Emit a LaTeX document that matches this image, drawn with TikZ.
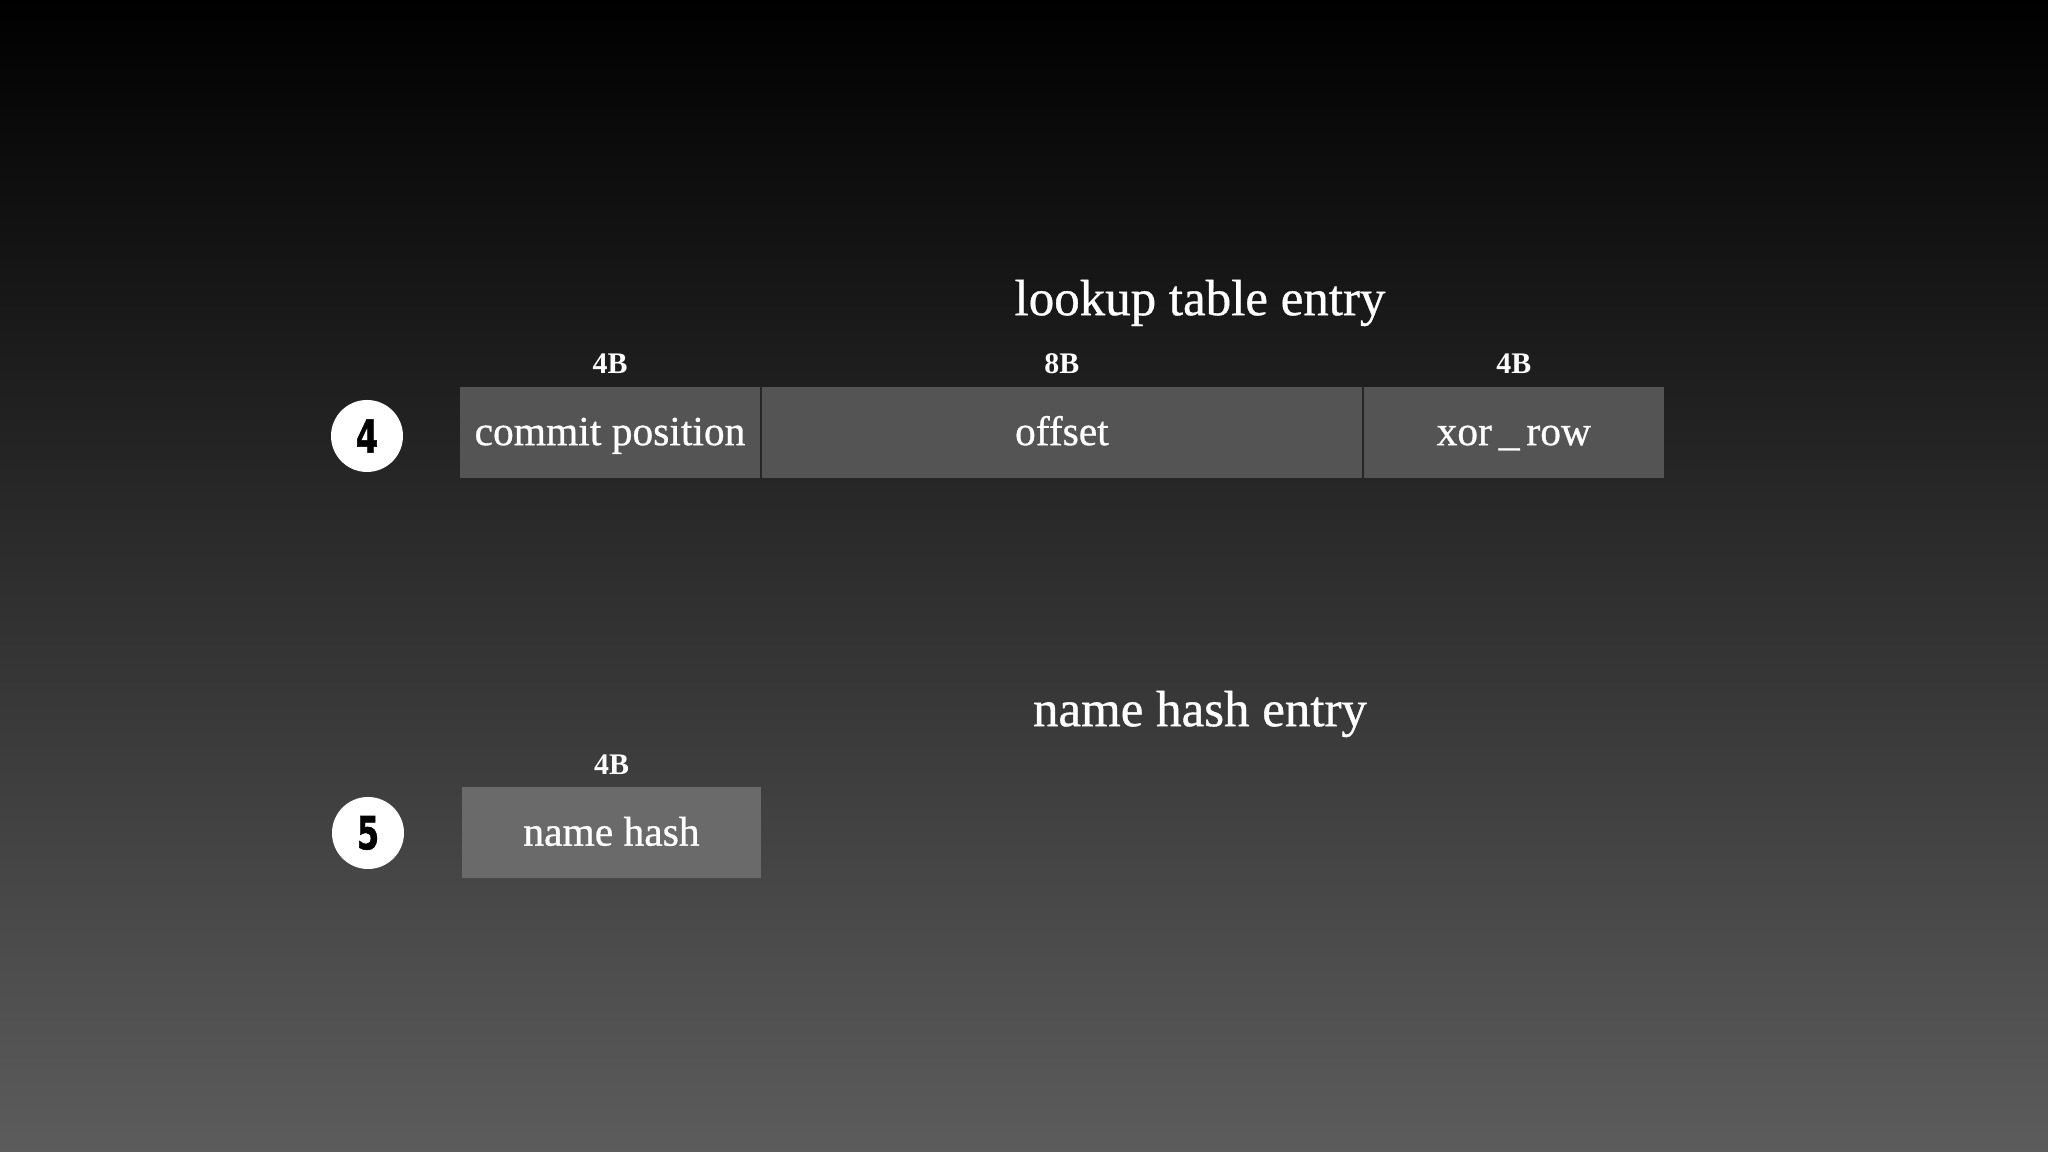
\documentclass[tikz,border=0pt]{standalone}
\usepackage{fontspec}
\setmainfont{Liberation Serif}
\newfontfamily\labelfont{Liberation Serif}[FakeBold=0.7]
\newfontfamily\digitfont{DejaVu Sans}[FakeBold=1.2]
\usetikzlibrary{positioning}
\definecolor{bgbottom}{RGB}{92,92,92}
\definecolor{fieldgray}{RGB}{84,84,84}
\definecolor{hashgray}{RGB}{106,106,106}
\definecolor{sepgray}{RGB}{38,38,38}
\tikzset{
  field/.style={fill=fieldgray, minimum height=0.91cm, inner sep=0pt, text=white, text height=0.8em, text depth=0.08em, font=\labelfont\fontsize{11.8}{14}\selectfont},
  size/.style={text=white, font=\bfseries\fontsize{8.5}{10}\selectfont},
  entry/.style={text=white, font=\labelfont\fontsize{14.5}{17}\selectfont},
  badge/.style={circle, fill=white, minimum size=0.72cm, inner sep=0pt, font=\digitfont\bfseries\fontsize{13}{13}\selectfont},
  sep/.style={draw=sepgray, line width=0.6pt}
}

\begin{document}
\begin{tikzpicture}
      \shade[top color=black, bottom color=bgbottom] (0,0) rectangle (20.48,11.52);
      \useasboundingbox (0,0) rectangle (20.48,11.52);
      % lookup table entry
      \node[entry] (lookuptitle) at (12.0,8.49) {lookup table entry};
      \node[field, minimum width=3.0cm] (commit) at (6.10,7.195) {commit position};
      \node[field, minimum width=6.01cm, right=0pt of commit] (offset) {offset};
      \node[field, minimum width=3.0cm, right=0pt of offset] (xorrow) {xor\,\_\,row};
      \draw[sep] (commit.north east) -- (commit.south east);
      \draw[sep] (offset.north east) -- (offset.south east);
      \node[size, above=0pt of commit] (commitsize) {4B};
      \node[size, above=0pt of offset] (offsetsize) {8B};
      \node[size, above=0pt of xorrow] (xorrowsize) {4B};
      \node[badge] (four) at (3.67,7.16) {\scalebox{0.7}[1]{4}};
      % name hash entry
      \node[entry] (hashtitle) at (12.0,4.38) {name hash entry};
      \node[field, fill=hashgray, minimum width=2.99cm] (namehash) at (6.115,3.19) {name hash};
      \node[size, above=0pt of namehash] (namehashsize) {4B};
      \node[badge] (five) at (3.68,3.19) {\scalebox{0.7}[1]{5}};
\end{tikzpicture}
\end{document}
